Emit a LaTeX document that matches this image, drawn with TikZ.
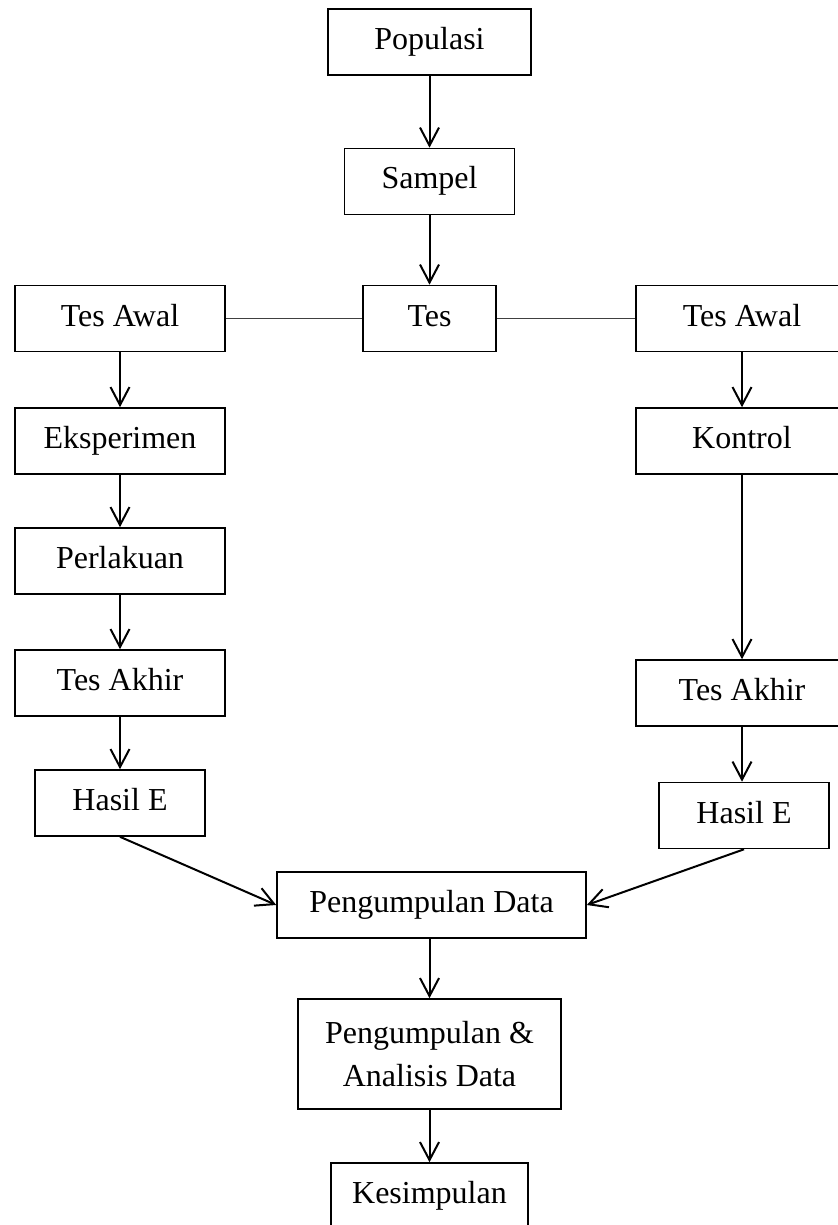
\documentclass[tikz,border=0pt]{standalone}
\usepackage{fontspec}
\setmainfont{Liberation Serif}
\usetikzlibrary{arrows.meta}

\begin{document}
\begin{tikzpicture}[x=0.5pt,y=-0.5pt,box/.style={draw,line width=.8pt,inner sep=0pt,minimum height=33pt,text height=11pt,text depth=3.5pt,font=\fontsize{16}{21.5}\selectfont},>={Straight Barb[length=9pt,width=9.5pt]}]
  \useasboundingbox (0,0) rectangle (838,1225);
  % tengah
  \node[box,minimum width=101.5pt] (c1) at (429.5,42) {Populasi};
  \node[box,minimum width=85pt] (c2) at (429.5,181.5) {Sampel};
  \node[box,minimum width=66.5pt] (c3) at (429.5,318.5) {Tes};

  % kiri
  \node[box,minimum width=105pt] (a1) at (120,318.5) {Tes Awal};
  \node[box,minimum width=105pt] (a2) at (120,441) {Eksperimen};
  \node[box,minimum width=105pt] (a3) at (120,561) {Perlakuan};
  \node[box,minimum width=105pt] (a4) at (120,683) {Tes Akhir};
  \node[box,minimum width=85pt] (a5) at (120,803) {Hasil E};

  % kanan
  \node[box,minimum width=106pt] (b1) at (742,318.5) {Tes Awal};
  \node[box,minimum width=106pt] (b2) at (742,441) {Kontrol};
  \node[box,minimum width=106pt] (b3) at (742,693) {Tes Akhir};
  \node[box,minimum width=85pt] (b4) at (744,815.5) {Hasil E};

  % bawah
  \node[box,minimum width=154.5pt] (d1) at (431.5,905) {Pengumpulan Data};
  \node[box,minimum width=131.5pt,minimum height=55pt,text height=,text depth=,align=center] (d2) at (429.5,1054) {Pengumpulan \&\\Analisis Data};
  \node[box,minimum width=98.5pt] (d3) at (429.5,1196) {Kesimpulan};

  \draw[->,line width=1pt] (c1) -- (c2);
  \draw[->,line width=1pt] (c2) -- (c3);
  \draw[line width=.5pt,black!75] (a1) -- (c3);
  \draw[line width=.5pt,black!75] (c3) -- (b1);
  \draw[->,line width=1pt] (a1) -- (a2);
  \draw[->,line width=1pt] (a2) -- (a3);
  \draw[->,line width=1pt] (a3) -- (a4);
  \draw[->,line width=1pt] (a4) -- (a5);
  \draw[->,line width=1pt] (b1) -- (b2);
  \draw[->,line width=1pt] (b2) -- (b3);
  \draw[->,line width=1pt] (b3.south) -- (b3.south |- b4.north);
  \draw[->,line width=1pt] (a5.south) -- (d1.west);
  \draw[->,line width=1pt] (b4.south) -- (d1.east);
  \draw[->,line width=1pt] (d1.south -| d2.north) -- (d2);
  \draw[->,line width=1pt] (d2) -- (d3);
\end{tikzpicture}
\end{document}
